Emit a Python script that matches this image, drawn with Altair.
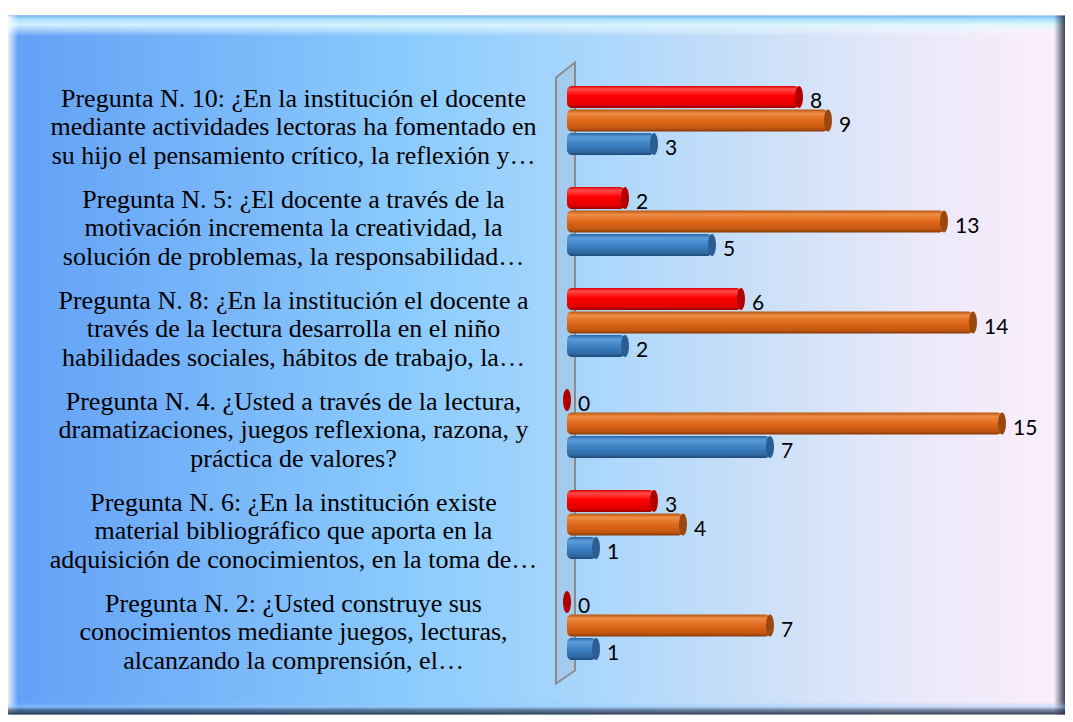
import altair as alt
import pandas as pd

categories = [
    "Pregunta N. 10: ¿En la institución el docente\nmediante actividades lectoras ha fomentado en\nsu hijo el pensamiento crítico, la reflexión y…",
    "Pregunta N. 5: ¿El docente a través de la\nmotivación incrementa la creatividad, la\nsolución de problemas, la responsabilidad…",
    "Pregunta N. 8: ¿En la institución el docente a\ntravés de la lectura desarrolla en el niño\nhabilidades sociales, hábitos de trabajo, la…",
    "Pregunta N. 4. ¿Usted a través de la lectura,\ndramatizaciones, juegos reflexiona, razona, y\npráctica de valores?",
    "Pregunta N. 6: ¿En la institución existe\nmaterial bibliográfico que aporta en la\nadquisición de conocimientos, en la toma de…",
    "Pregunta N. 2: ¿Usted construye sus\nconocimientos mediante juegos, lecturas,\nalcanzando la comprensión, el…",
]
series_names = ["Serie 3", "Serie 2", "Serie 1"]  # top to bottom within each group
serie3_red = [8, 2, 6, 0, 3, 0]
serie2_orange = [9, 13, 14, 15, 4, 7]
serie1_blue = [3, 5, 2, 7, 1, 1]

rows = []
for i, c in enumerate(categories):
    rows.append({"cat": c, "serie": "Serie 3", "v": serie3_red[i]})
    rows.append({"cat": c, "serie": "Serie 2", "v": serie2_orange[i]})
    rows.append({"cat": c, "serie": "Serie 1", "v": serie1_blue[i]})
df = pd.DataFrame(rows)

W, H = 493, 606
one = alt.Data(values=[{"k": 1}])


def lin(stops, vertical=True):
    g = {"gradient": "linear", "stops": [{"offset": o, "color": c} for o, c in stops]}
    if vertical:
        g.update({"x1": 0, "y1": 0, "x2": 0, "y2": 1})
    else:
        g.update({"x1": 0, "y1": 0, "x2": 1, "y2": 0})
    return g


def deco_rect(x, x2, y, y2, fill):
    return alt.Chart(one).mark_rect(fill=fill, strokeWidth=0).encode(
        x=alt.value(x), x2=alt.value(x2), y=alt.value(y), y2=alt.value(y2)
    )


frame = deco_rect(-559, W + 5, -54.5, H + 38.5,
                  lin([(0, "#62a0f6"), (0.4, "#8ecdfd"), (0.55, "#aad6fc"), (0.7, "#c8dff8"),
                       (0.85, "#e8e8fa"), (1, "#fdeefa")], vertical=False))
top_bevel = deco_rect(-559, W + 5, -54.5, -34,
                      lin([(0, "#74b0ec"), (0.15, "#a6dbfa"), (0.45, "rgba(220,248,255,0.9)"), (1, "rgba(255,255,255,0)")]))
left_bevel = deco_rect(-559, -549, -54.5, H + 38.5,
                       lin([(0, "rgba(255,255,255,0.85)"), (1, "rgba(255,255,255,0)")], vertical=False))
right_bevel = deco_rect(W - 6, W + 5, -54.5, H + 38.5,
                        lin([(0, "rgba(40,50,70,0)"), (1, "rgba(40,50,70,0.9)")], vertical=False))
bottom_bevel = deco_rect(-559, W + 5, H + 26, H + 38.5,
                         lin([(0, "rgba(140,200,255,0)"), (0.4, "rgba(150,200,250,0.5)"),
                              (0.6, "rgba(60,80,110,0.6)"), (1, "rgba(40,50,70,0.95)")]))

wall = alt.Chart(one).mark_point(
    shape="M-0.0306,-0.9517 L0.0306,-1 L0.0306,0.9581 L-0.0306,1 Z",
    filled=True, fill="rgba(150,150,150,0.15)", stroke="#8c8c8c", strokeWidth=2, opacity=1,
).encode(x=alt.value(-1.5), y=alt.value(303), size=alt.value(621 * 621))

yscale = alt.Scale(domain=categories, paddingInner=0.3, paddingOuter=0.15)
xscale = alt.Scale(domain=[0, 17], nice=False)
yoff = alt.YOffset("serie:N", sort=series_names, scale=alt.Scale(domain=series_names, paddingInner=0, paddingOuter=0))

yaxis = alt.Axis(
    title=None, domain=False, ticks=False, grid=False, zindex=1,
    labelExpr="split(datum.label, '\\n')",
    labelFont="Liberation Serif", labelFontSize=26, labelColor="#000000",
    labelLineHeight=28.5, labelAlign="center", labelPadding=274, labelLimit=700,
    labelBaseline="middle", labelOffset=-22,
)

base = alt.Chart(df).encode(
    y=alt.Y("cat:N", sort=categories, scale=yscale, axis=yaxis),
    yOffset=yoff,
)

grads = {
    "Serie 3": lin([(0, "#d80000"), (0.15, "#ff4a4a"), (0.45, "#ff0000"), (0.85, "#e00000"), (1, "#9a0000")]),
    "Serie 2": lin([(0, "#b8560f"), (0.18, "#ee8d45"), (0.5, "#e0681a"), (0.85, "#c4560f"), (1, "#86390a")]),
    "Serie 1": lin([(0, "#2b65a2"), (0.18, "#5c9ddb"), (0.5, "#3d82c4"), (0.85, "#2f69a3"), (1, "#1d4776")]),
}
caps = {"Serie 3": "#b00000", "Serie 2": "#9a4810", "Serie 1": "#2a5d92"}

layers = [frame, top_bevel, left_bevel, right_bevel, bottom_bevel, wall]
for s in series_names:
    sub = base.transform_filter(alt.datum.serie == s)
    layers.append(
        sub.mark_bar(color=grads[s], size=22, cornerRadius=5).encode(
            x=alt.X("v:Q", scale=xscale, axis=None), x2=alt.datum(0)
        )
    )
    layers.append(
        sub.mark_point(
            shape="M0,-1 A0.36,1 0 1,1 0,1 A0.36,1 0 1,1 0,-1 Z",
            filled=True, fill=caps[s], opacity=1, strokeWidth=0,
        ).encode(x=alt.X("v:Q", scale=xscale, axis=None), size=alt.value(484))
    )

labels = base.mark_text(
    align="left", baseline="middle", dx=11, dy=5, font="Lato", fontSize=21, color="#000000"
).encode(x=alt.X("v:Q", scale=xscale, axis=None), text="v:Q")
layers.append(labels)

chart = alt.layer(*layers).properties(
    width=W, height=H, padding={"left": 0, "right": 0, "top": 7, "bottom": 0}
).configure_view(strokeWidth=0)

chart.save("out.html", embed_options={"renderer": "svg", "actions": False})
